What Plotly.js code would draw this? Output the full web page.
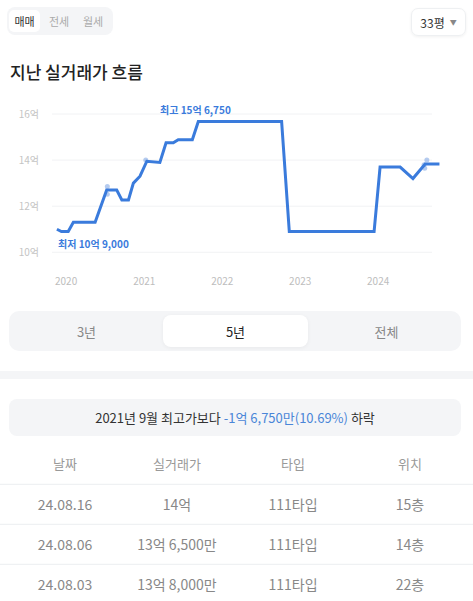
<!DOCTYPE html>
<html><head><meta charset="utf-8">
<script src="https://cdn.plot.ly/plotly-3.0.1.min.js"></script>
<style>
html,body{margin:0;padding:0;background:#fff;width:473px;height:601px;overflow:hidden;font-family:'Noto Sans CJK KR','Noto Sans',sans-serif;}
.abs{position:absolute;}
.seg{background:#f4f5f7;border-radius:8px;}
.segitem{position:absolute;display:flex;align-items:center;justify-content:center;}
</style></head>
<body>
<div class="abs seg" style="left:7px;top:7px;width:106px;height:28px;">
  <div class="segitem" style="left:2px;top:3px;width:31px;height:22px;background:#fff;border-radius:5px;font-size:11px;color:#333;">매매</div>
  <div class="segitem" style="left:37px;top:3px;width:30px;height:22px;font-size:11px;color:#aaa;">전세</div>
  <div class="segitem" style="left:71px;top:3px;width:30px;height:22px;font-size:11px;color:#aaa;">월세</div>
</div>
<div class="abs" style="left:411px;top:8px;width:53px;height:26px;border:1px solid #eef0f2;border-radius:7px;box-shadow:0 1px 3px rgba(0,0,0,0.06);display:flex;align-items:center;justify-content:center;font-size:12px;color:#333;">33평<span style="font-size:7px;color:#888;margin-left:5px;">▼</span></div>
<div class="abs" style="left:10px;top:60px;font-size:17px;font-weight:500;color:#222;line-height:24px;">지난 실거래가 흐름</div>

<div id="chart" class="abs" style="left:0;top:90px;width:473px;height:210px;"></div>

<div class="abs seg" style="left:9px;top:311px;width:452px;height:40px;border-radius:10px;">
  <div class="segitem" style="left:154px;top:4px;width:145px;height:32px;background:#fff;border-radius:8px;box-shadow:0 1px 4px rgba(0,0,0,0.05);"></div>
  <div class="segitem" style="left:0;top:4px;width:155px;height:32px;font-size:13px;color:#888;">3년</div>
  <div class="segitem" style="left:154px;top:4px;width:145px;height:32px;font-size:13px;color:#222;">5년</div>
  <div class="segitem" style="left:300px;top:4px;width:155px;height:32px;font-size:13px;color:#888;">전체</div>
</div>
<div class="abs" style="left:0;top:371px;width:473px;height:8px;background:#f4f5f7;"></div>
<div class="abs seg" style="left:9px;top:399px;width:452px;height:37px;display:flex;align-items:center;justify-content:center;font-size:13px;color:#333;">2021년 9월 최고가보다&nbsp;<span style="color:#4a86d8;">-1억 6,750만(10.69%)</span>&nbsp;하락</div>

<div id="table" class="abs" style="left:0;top:440px;width:473px;height:161px;"></div>

<script>
// ---- chart data ----
const lineDates = ['2019-11-19','2019-12-10','2020-01-11','2020-02-04','2020-05-16','2020-07-09','2020-08-25','2020-09-18','2020-10-19','2020-11-11','2020-12-12','2021-01-13','2021-03-15','2021-04-13','2021-05-17','2021-06-09','2021-08-14','2021-09-11','2022-10-06','2022-11-11','2023-12-13','2024-01-10','2024-04-13','2024-06-12','2024-08-08','2024-10-14'];
const lineValues = [11.0,10.9,10.9,11.3,11.3,12.7,12.7,12.27,12.27,13.0,13.3,13.95,13.9,14.75,14.75,14.88,14.88,15.675,15.675,10.9,10.9,13.7,13.7,13.2,13.83,13.83];
const dealDates = ['2020-07-12','2020-07-12','2021-01-08','2024-08-03','2024-08-06','2024-08-16'];
const dealValues = [12.85,12.52,14.0,13.8,13.65,14.0];
const yTickVals = [10,12,14,16];
const yTickText = ['10억','12억','14억','16억'];
const xTickVals = ['2020-01-01','2021-01-01','2022-01-01','2023-01-01','2024-01-01'];
const xTickText = ['2020','2021','2022','2023','2024'];
const maxLabel = '최고 15억 6,750';
const minLabel = '최저 10억 9,000';

// ---- table data ----
const tableHeader = ['날짜','실거래가','타입','위치'];
const tradeDates = ['24.08.16','24.08.06','24.08.03'];
const tradePrices = ['14억','13억 6,500만','13억 8,000만'];
const tradeTypes = ['111타입','111타입','111타입'];
const tradeFloors = ['15층','14층','22층'];

const blue = '#3a7bdc';
let maxI = 0, minI = 0;
lineValues.forEach((v,i)=>{ if(v>lineValues[maxI]) maxI=i; if(v<lineValues[minI]) minI=i; });

const grid = yTickVals.map(v=>({type:'line',xref:'paper',yref:'y',x0:0,x1:0.967,y0:v,y1:v,line:{color:'#f1f2f4',width:1},layer:'below'}));

Plotly.newPlot('chart',[
  {x:dealDates,y:dealValues,type:'scatter',mode:'markers',marker:{color:'rgba(120,160,225,0.55)',size:5},hoverinfo:'skip'},
  {x:lineDates,y:lineValues,type:'scatter',mode:'lines',line:{color:blue,width:3,shape:'linear'},hoverinfo:'skip'}
],{
  width:473,height:210,margin:{l:52,r:28,t:15,b:28},
  paper_bgcolor:'#fff',plot_bgcolor:'#fff',showlegend:false,
  font:{family:"'Noto Sans CJK KR', sans-serif"},
  xaxis:{type:'date',range:['2019-10-27','2024-11-09'],tickvals:xTickVals,ticktext:xTickText,showgrid:false,zeroline:false,showline:false,ticks:'',ticklabelstandoff:2,tickfont:{size:10,color:'#bdbdbd'},fixedrange:true},
  yaxis:{range:[9.1435,16.391],tickvals:yTickVals,ticktext:yTickText,showgrid:false,zeroline:false,showline:false,ticks:'',ticklabelstandoff:12,tickfont:{size:10,color:'#c4c4c4'},fixedrange:true},
  shapes:grid,
  annotations:[
    {x:lineDates[maxI],y:lineValues[maxI],text:'<b>'+maxLabel+'</b>',showarrow:false,xanchor:'center',yanchor:'middle',xshift:-3,yshift:12,font:{size:10,color:blue}},
    {x:lineDates[minI+1],y:lineValues[minI],text:'<b>'+minLabel+'</b>',showarrow:false,xanchor:'center',yanchor:'middle',xshift:25,yshift:-12,font:{size:10,color:blue}}
  ]
},{staticPlot:true});

// separators at 44.3, 84.3, 124.3 px from div top; plot area starts at t=11, height 150
const seps = [44.3,84.3,124.3].map(p=>({type:'line',xref:'paper',yref:'paper',x0:-0.05,x1:1.05,y0:1-(p-11)/150,y1:1-(p-11)/150,line:{color:'#eceef0',width:1}}));
Plotly.newPlot('table',[{
  type:'table',columnwidth:[114,110,122,112],
  header:{values:tableHeader,align:'center',height:40,fill:{color:'#fff'},line:{width:0,color:'#fff'},font:{size:13,color:'#999',family:"'Noto Sans CJK KR', sans-serif"}},
  cells:{values:[tradeDates,tradePrices,tradeTypes,tradeFloors],align:'center',height:40,fill:{color:'#fff'},line:{width:0,color:'#fff'},font:{size:14,color:'#888',family:"'Noto Sans CJK KR', sans-serif"}}
}],{width:473,height:161,margin:{l:8,r:7,t:11,b:0},paper_bgcolor:'rgba(0,0,0,0)',shapes:seps},{staticPlot:true});
</script>
</body></html>
